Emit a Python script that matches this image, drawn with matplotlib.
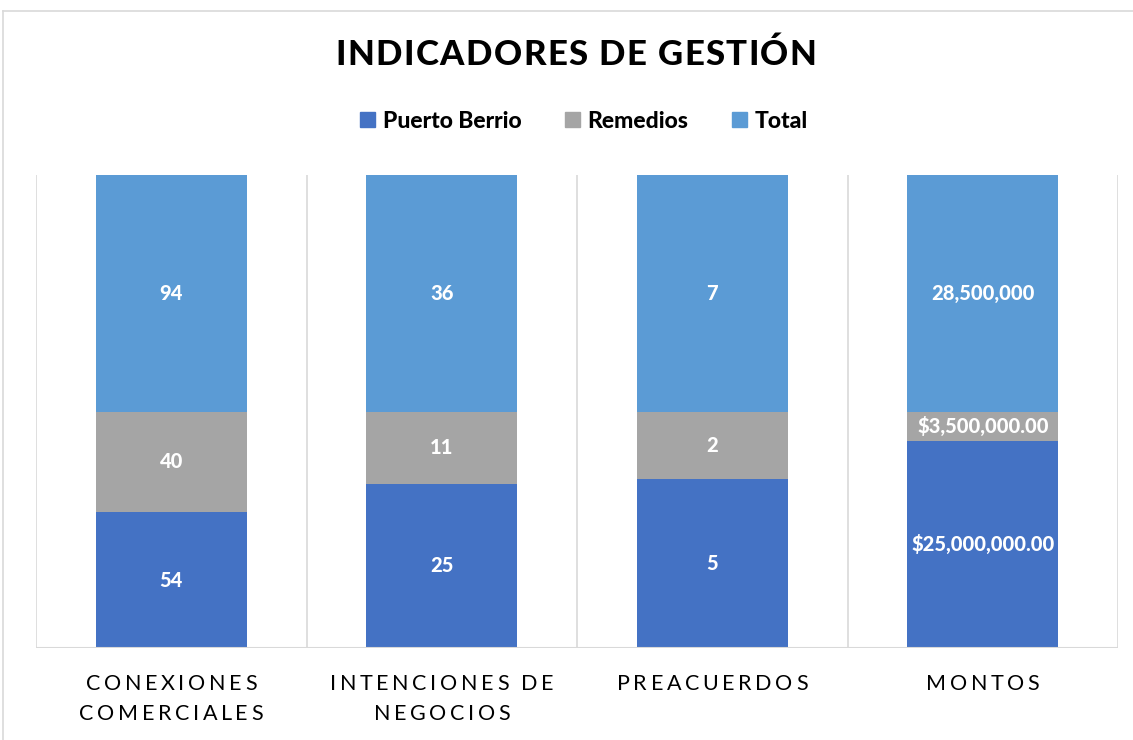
import numpy as np
import matplotlib.pyplot as plt
from matplotlib.lines import Line2D
from matplotlib.patches import Rectangle

W, H = 1133, 740

categorias = ["CONEXIONES\nCOMERCIALES", "INTENCIONES DE\nNEGOCIOS", "PREACUERDOS", "MONTOS"]
series = ["Puerto Berrio", "Remedios", "Total"]
puerto_berrio = [54, 25, 5, 25000000]
remedios = [40, 11, 2, 3500000]
total = [94, 36, 7, 28500000]

# etiquetas tal como salen en cada segmento
etiq_puerto = ["54", "25", "5", "$25,000,000.00"]
etiq_remedios = ["40", "11", "2", "$3,500,000.00"]
etiq_total = ["94", "36", "7", "28,500,000"]

colores = ["#4472C4", "#A5A5A5", "#5B9BD5"]
FUENTE = "Lato"

plt.rcParams['font.family'] = [FUENTE, 'DejaVu Sans']

fig = plt.figure(figsize=(W / 100, H / 100), dpi=100)
renderer = fig.canvas.get_renderer()


def texto_espaciado(x_px, y_px, s, espacio, **kw):
    # dibuja el texto letra por letra con separacion extra (en pixeles)
    t = fig.text(0, 0, "x", **kw)
    prop = t.get_fontproperties()
    t.remove()
    anchos = [renderer.get_text_width_height_descent(c, prop, ismath=False)[0] for c in s]
    ancho_total = sum(anchos) + espacio * (len(s) - 1)
    x = x_px - ancho_total / 2
    for c, a in zip(s, anchos):
        fig.text(x / W, 1 - y_px / H, c, ha="left", va="center", **kw)
        x += a + espacio


# marco del grafico
fig.add_artist(Line2D([3 / W, 1], [1 - 11 / H, 1 - 11 / H], color="#d9d9d9", lw=1.2))
fig.add_artist(Line2D([3 / W, 3 / W], [0, 1 - 11 / H], color="#d9d9d9", lw=1.2))

ax = fig.add_axes([36 / W, 1 - 648 / H, (1118 - 36) / W, (648 - 175) / H])

datos = np.array([puerto_berrio, remedios, total], dtype=float)
porcentajes = datos / datos.sum(axis=0) * 100
etiquetas = [etiq_puerto, etiq_remedios, etiq_total]

x = np.arange(len(categorias))
base = np.zeros(len(categorias))
for i, nombre in enumerate(series):
    barras = ax.bar(x, porcentajes[i], 0.56, bottom=base, color=colores[i], label=nombre, zorder=3)
    ax.bar_label(barras, labels=etiquetas[i], label_type="center", color="white",
                 fontsize=14.5, fontweight="black")
    base += porcentajes[i]

ax.set_xlim(-0.5, len(categorias) - 0.5)
ax.set_ylim(0, 100)
for xl in np.arange(-0.5, len(categorias), 1.0):
    ax.axvline(xl, color="#d9d9d9", lw=1.2, zorder=1)
ax.axhline(0, color="#d9d9d9", lw=1.5, zorder=4)
for s in ax.spines.values():
    s.set_visible(False)
ax.set_xticks([])
ax.set_yticks([])

# etiquetas de categorias con letras separadas
for i, cat in enumerate(categorias):
    cx = 36 + (i + 0.5) * (1118 - 36) / len(categorias)
    for j, linea in enumerate(cat.split("\n")):
        texto_espaciado(cx, 684 + j * 30, linea, 3.6, fontsize=15.5, color="#000000")

texto_espaciado(576, 55, "INDICADORES DE GESTIÓN", 1.4, fontsize=25, fontweight="black", color="#000000")

manijas = [Rectangle((0, 0), 1, 1, color=c) for c in colores]
fig.legend(manijas, series, loc="center", bbox_to_anchor=(584 / W, 1 - 121 / H), ncol=3,
           frameon=False, prop={"size": 16.5, "weight": "black"}, handlelength=0.65,
           handleheight=0.65, handletextpad=0.35, columnspacing=1.9)

fig.savefig("out.png", dpi=100)
